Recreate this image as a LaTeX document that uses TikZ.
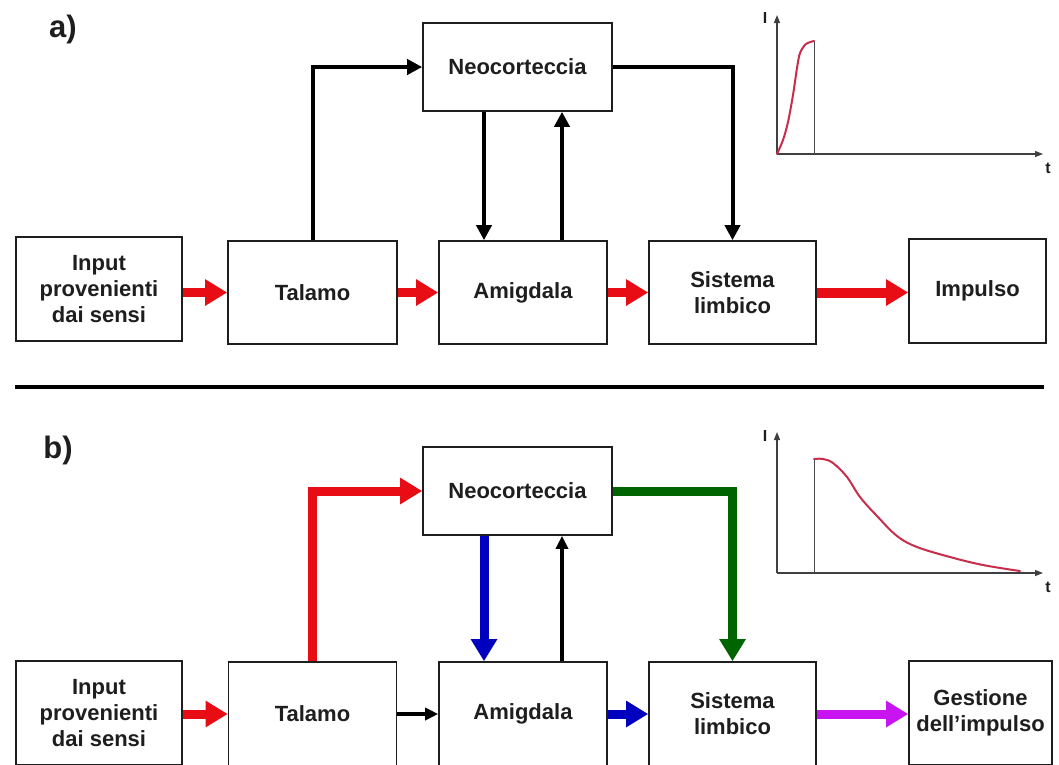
\documentclass[tikz,border=0pt]{standalone}
\usepackage{fontspec}
\setmainfont{Liberation Sans}
\usetikzlibrary{arrows.meta,backgrounds}
\definecolor{redA}{RGB}{232,12,20}
\definecolor{blueB}{RGB}{0,0,190}
\definecolor{greenB}{RGB}{0,100,0}
\definecolor{magB}{RGB}{200,20,240}
\definecolor{curveC}{RGB}{200,45,75}
\definecolor{ink}{RGB}{30,30,30}
\tikzset{
  box/.style={draw=ink, line width=1.6pt, fill=white, inner sep=0pt, align=center,
    text=ink, font=\fontsize{22}{26}\selectfont\bfseries},
  thick arrow/.style={line width=9pt, line join=miter, -{Triangle[length=22pt,width=25pt]}},
  thin arrow/.style={line width=4pt, line join=miter, -{Triangle[length=15pt,width=15pt]}},
  small arrow/.style={line width=4pt, -{Triangle[length=13pt,width=12pt]}},
  axis/.style={draw=black!75, line width=1.3pt, -{Triangle[length=8pt,width=6pt]}},
  axlabel/.style={text=ink, font=\fontsize{16}{18}\selectfont\bfseries, inner sep=0pt},
  panel/.style={text=ink, font=\fontsize{31}{34}\selectfont\bfseries, inner sep=0pt}
}
\begin{document}
\begin{tikzpicture}[x=1pt,y=-1pt]
\useasboundingbox (0,0) rectangle (1059,764);

% ---------- panel a ----------
\node[panel] (la) at (63,29) {a)};
\node[box, minimum width=166pt, minimum height=104pt] (inA) at (99,289) {Input\\provenienti\\dai sensi};
\node[box, minimum width=169pt, minimum height=103pt] (talA) at (312.5,292.5) {Talamo};
\node[box, minimum width=168pt, minimum height=103pt] (amA) at (523,292.5) {Amigdala};
\node[box, minimum width=189pt, minimum height=88pt] (neoA) at (517.5,67) {Neocorteccia};
\node[box, minimum width=167pt, minimum height=103pt] (sisA) at (732.5,292.5) {Sistema\\limbico};
\node[box, minimum width=137pt, minimum height=104pt] (impA) at (977.5,291) {Impulso};

% ---------- panel b ----------
\node[panel] (lb) at (58,450) {b)};
\node[box, minimum width=166pt, minimum height=104pt] (inB) at (99,713) {Input\\provenienti\\dai sensi};
\node[box, minimum width=168pt, minimum height=104pt] (talB) at (312.5,714) {Talamo};
\node[box, minimum width=168pt, minimum height=104pt] (amB) at (523,714) {Amigdala};
\node[box, minimum width=189pt, minimum height=88pt] (neoB) at (517.5,491) {Neocorteccia};
\node[box, minimum width=167pt, minimum height=104pt] (sisB) at (732.5,714) {Sistema\\limbico};
\node[box, minimum width=143pt, minimum height=104pt] (gesB) at (980.5,713) {Gestione\\dell’impulso};

\begin{pgfonlayer}{background}
\fill[white] (0,0) rectangle (1059,764);
% connectors a
\draw[thick arrow, redA] (inA.east |- talA.west) -- (talA.west);
\draw[thick arrow, redA] (talA.east) -- (amA.west);
\draw[thick arrow, redA] (amA.east) -- (sisA.west);
\draw[thick arrow, redA, line width=10pt] (sisA.east) -- (impA.west |- sisA.east);
\draw[thin arrow, black] (talA.north) |- (neoA.west);
\draw[thin arrow, black] (484,0 |- neoA.south) -- (484,0 |- amA.north);
\draw[thin arrow, black] (562,0 |- amA.north) -- (562,0 |- neoA.south);
\draw[thin arrow, black] (neoA.east) -| (sisA.north);
% connectors b
\draw[thick arrow, redA] (inB.east |- talB.west) -- (talB.west);
\draw[small arrow, black] (talB.east) -- (amB.west);
\draw[thick arrow, blueB] (amB.east) -- (sisB.west);
\draw[thick arrow, magB] (sisB.east) -- (gesB.west |- sisB.east);
\draw[thick arrow, redA] (talB.north) |- (neoB.west);
\draw[thick arrow, blueB] (484,0 |- neoB.south) -- (484,0 |- amB.north);
\draw[small arrow, black] (562,0 |- amB.north) -- (562,0 |- neoB.south);
\draw[thick arrow, greenB] (neoB.east) -| (sisB.north);
\end{pgfonlayer}

% graph a
\coordinate (oA) at (777,154);
\draw[axis] (oA) -- (777,15);
\draw[axis] (oA) -- (1043,154);
\draw[draw=black!70, line width=0.8pt] (814,154) -- (814,41);
\draw[curveC, line width=2pt, line cap=round] plot[smooth, tension=0.5] coordinates
  {(777,154) (783,140) (788,122) (793,95) (797,68) (800,53) (806,44) (814,41)};
\node[axlabel] (IA) at (765,18) {I};
\node[axlabel] (tA) at (1048,168) {t};

% separator
\draw[line width=3.5pt, black] (15,387) -- (1044,387);

% graph b
\coordinate (oB) at (777,573);
\draw[axis] (oB) -- (777,432);
\draw[axis] (oB) -- (1043,573);
\draw[draw=black!70, line width=0.8pt] (814,573) -- (814,459);
\draw[curveC, line width=2pt, line cap=round] plot[smooth, tension=0.6] coordinates
  {(814,459) (823,459) (833,463) (847,477) (860,497) (877,516) (897,536) (917,547) (950,557) (983,565) (1020,571)};
\node[axlabel] (IB) at (765,436) {I};
\node[axlabel] (tB) at (1048,587) {t};
\end{tikzpicture}
\end{document}
